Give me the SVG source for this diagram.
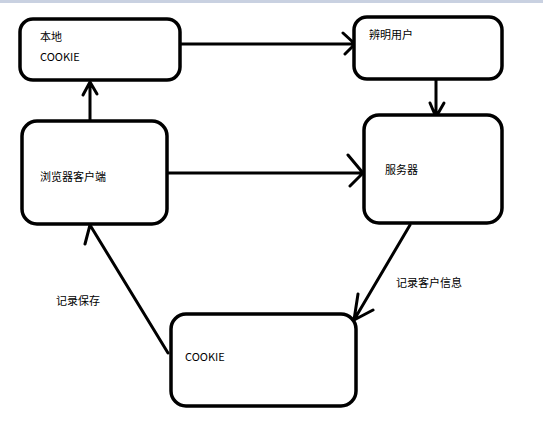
<svg xmlns="http://www.w3.org/2000/svg" width="543" height="433" viewBox="0 0 543 433">
<style>
.node{fill:#fff;stroke:#000;stroke-width:3.5}
.edge{fill:none;stroke:#000;stroke-width:3;stroke-linecap:round;stroke-linejoin:round}
text{font-family:"Noto Sans CJK SC","Microsoft YaHei",sans-serif;font-size:11px;fill:#000}
</style>
<rect x="0" y="0" width="543" height="433" fill="#fff"/>
<rect x="0" y="0" width="543" height="3" fill="#c9d1e1"/>
<g id="connectors">
<path class="edge" d="M181 44 H355 M343 33 L355 44 L345 54"/>
<path class="edge" d="M436 79 V117 M430 103 L436 117 L444 103"/>
<path class="edge" d="M168 173 H363 M348 155 L363 173 L350 186"/>
<path class="edge" d="M90 121 V82 M83 95 L90 82 L97 94"/>
<path class="edge" d="M410 225 L354 320 M358 294 L354 320 L373 310"/>
<path class="edge" d="M168 353 L90 225 L85 244"/>
</g>
<g id="n-local-cookie">
<rect class="node" x="20" y="19" width="160" height="61" rx="13"/>
<text x="40" y="41">本地</text>
<text x="40" y="61">COOKIE</text>
</g>
<g id="n-identify">
<rect class="node" x="354" y="17" width="148" height="62" rx="13"/>
<text x="369" y="39">辨明用户</text>
</g>
<g id="n-browser">
<rect class="node" x="22" y="121" width="145" height="103" rx="15"/>
<text x="40" y="181">浏览器客户端</text>
</g>
<g id="n-server">
<rect class="node" x="364" y="115" width="138" height="108" rx="15"/>
<text x="385" y="174">服务器</text>
</g>
<g id="n-cookie">
<rect class="node" x="171" y="314" width="185" height="92" rx="15"/>
<text x="185" y="361">COOKIE</text>
</g>
<text x="396" y="287">记录客户信息</text>
<text x="56" y="305">记录保存</text>
</svg>
